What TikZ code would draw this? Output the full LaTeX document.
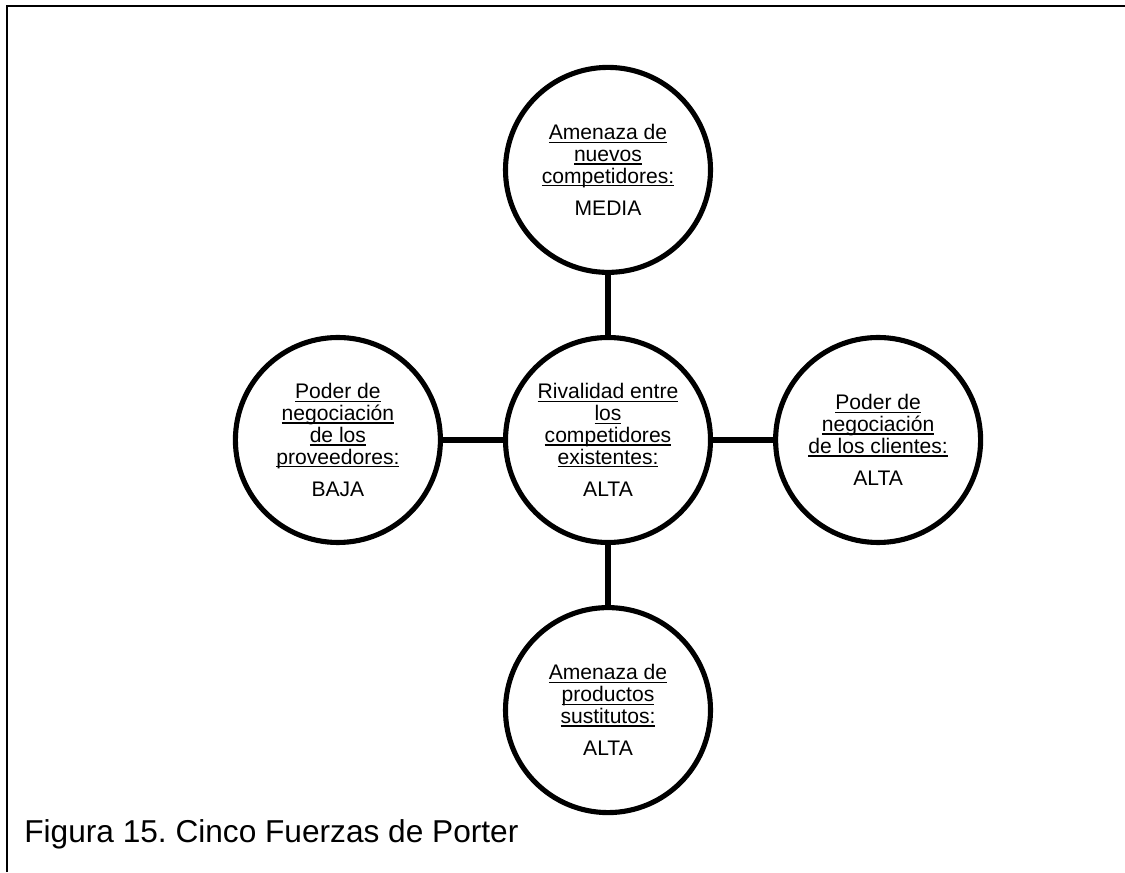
\documentclass[tikz,border=0pt]{standalone}
\usepackage{fontspec}
\setmainfont{Liberation Sans}
\usetikzlibrary{positioning}
\frenchspacing
\newcommand{\subrayar}[1]{\setbox0\hbox{#1}\rlap{\rule[-1.9pt]{\wd0}{0.8pt}}\box0}

\begin{document}
\begin{tikzpicture}[
  fuerza/.style={circle, draw, line width=2.9pt, minimum size=4.1cm, inner sep=0pt,
    align=center, font=\fontsize{12}{12.4}\selectfont},
  enlace/.style={line width=2.9pt},
  node distance=1.2cm]
\useasboundingbox (0,0) rectangle (22.5,17.44);
% marco
\draw[line width=1.2pt] (0.14,0) -- (0.14,17.32) -- (22.5,17.32);
% fuerzas
\node[fuerza] (rival) at (12.16,8.64) {\subrayar{Rivalidad entre}\\\subrayar{los}\\\subrayar{competidores}\\\subrayar{existentes:}\\[6pt]ALTA};
\node[fuerza, above=of rival] (nuevos) {\subrayar{Amenaza de}\\\subrayar{nuevos}\\\subrayar{competidores:}\\[6pt]MEDIA};
\node[fuerza, left=of rival] (proveedores) {\subrayar{Poder de}\\\subrayar{negociación}\\\subrayar{de los}\\\subrayar{proveedores:}\\[6pt]BAJA};
\node[fuerza, right=of rival] (clientes) {\subrayar{Poder de}\\\subrayar{negociación}\\\subrayar{de los clientes:}\\[6pt]ALTA};
\node[fuerza, below=of rival] (sustitutos) {\subrayar{Amenaza de}\\\subrayar{productos}\\\subrayar{sustitutos:}\\[6pt]ALTA};
\draw[enlace] (rival) -- (nuevos);
\draw[enlace] (rival) -- (proveedores);
\draw[enlace] (rival) -- (clientes);
\draw[enlace] (rival) -- (sustitutos);
% pie
\node[anchor=base west, inner sep=0pt, font=\fontsize{18}{20}\selectfont] (pie) at (0.48,0.6) {Figura 15. Cinco Fuerzas de Porter};
\end{tikzpicture}
\end{document}
